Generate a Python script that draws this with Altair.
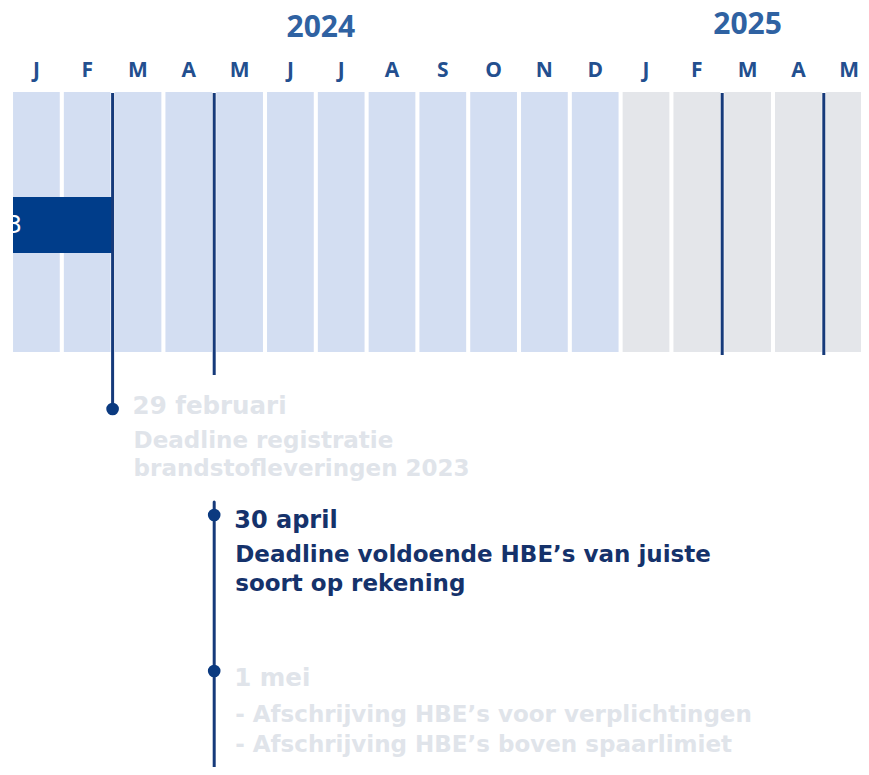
import altair as alt
import pandas as pd

# ---------------- data ----------------
month_letters = ["J", "F", "M", "A", "M", "J", "J", "A", "S", "O", "N", "D",
                 "J", "F", "M", "A", "M"]
month_years = [2024] * 12 + [2025] * 5
year_labels = ["2024", "2025"]
year_label_month = [6.1, 14.5]          # month index under which each year label sits
deadline_months = [2, 4, 14, 16]        # month boundaries: end of Feb, end of Apr
bar_label = "2023"
bar_start, bar_end = 0, 2
event_titles = ["29 februari", "30 april", "1 mei"]
event_lines = [
    ["Deadline registratie", "brandstofleveringen 2023"],
    ["Deadline voldoende HBE’s van juiste", "soort op rekening"],
    ["- Afschrijving HBE’s voor verplichtingen", "- Afschrijving HBE’s boven spaarlimiet"],
]
event_month = [2, 4, 4]
event_active = [False, True, False]

# ---------------- layout (page pixels, y downward) ----------------
COL_TOP, COL_BOT = 92, 352
BAR_TOP, BAR_BOT = 197, 253
MONTH_Y = 71
YEAR_Y = [28, 25]
RULE_END = [408, 375, 355, 355]
DOT_Y = [409, 515, 671]
TITLE_BASE = [414, 528, 686]
LINE_BASE = [[448, 476], [562, 591], [722, 752]]
TL2_TOP, TL2_BOT = 502, 767

NAVY = "#163a7a"
BAR = "#003d8a"
LIGHT = "#e0e4ea"
DARKTXT = "#15326b"

xs = alt.Scale(domain=[2 / 50.8, 850 / 50.8], nice=False, zero=False)
ys = alt.Scale(domain=[8, 767], reverse=True, nice=False, zero=False)


def X(f):
    return alt.X(f, type="quantitative", scale=xs, axis=None)


def Y(f):
    return alt.Y(f, type="quantitative", scale=ys, axis=None)


cols = pd.DataFrame({
    "m0": [i + 0.04 for i in range(len(month_letters))],
    "m1": [i + 0.96 for i in range(len(month_letters))],
    "mc": [i + 0.5 for i in range(len(month_letters))],
    "letter": month_letters,
    "year": [str(y) for y in month_years],
    "top": COL_TOP, "bot": COL_BOT, "ly": MONTH_Y,
})

columns = alt.Chart(cols).mark_rect(clip=True).encode(
    x=X("m0"), x2="m1", y=Y("top"), y2="bot",
    color=alt.Color("year:N", scale=alt.Scale(domain=["2024", "2025"],
                                              range=["#d3def2", "#e4e6ea"]), legend=None),
)

letters = alt.Chart(cols).mark_text(
    font="Open Sans", fontWeight="bold", fontSize=21, baseline="middle", color="#234f8f"
).encode(x=X("mc"), y=Y("ly"), text="letter:N")

yrs = pd.DataFrame({"label": year_labels, "m": year_label_month, "y": YEAR_Y})
years = alt.Chart(yrs).mark_text(
    font="Open Sans", fontWeight="bold", fontSize=30, baseline="middle", color="#2f62a2"
).encode(x=X("m"), y=Y("y"), text="label:N")

bar_df = pd.DataFrame({"s": [bar_start], "e": [bar_end], "t": [BAR_TOP], "b": [BAR_BOT],
                       "label": [bar_label], "ym": [(BAR_TOP + BAR_BOT) / 2 + 1]})
bar = alt.Chart(bar_df).mark_rect(color=BAR, clip=True).encode(
    x=X("s"), x2="e", y=Y("t"), y2="b")
bar_text = alt.Chart(bar_df).mark_text(
    font="DejaVu Sans", fontSize=24, color="white",
    align="right", baseline="middle", dx=11, clip=True
).encode(x=X("s"), y=Y("ym"), text="label:N")

rules_df = pd.DataFrame({"m": deadline_months, "top": COL_TOP + 1, "end": RULE_END})
rules = alt.Chart(rules_df).mark_rule(color=NAVY, strokeWidth=3).encode(
    x=X("m"), y=Y("top"), y2="end")

tl2_df = pd.DataFrame({"m": [event_month[1]], "top": [TL2_TOP], "bot": [TL2_BOT]})
tl2 = alt.Chart(tl2_df).mark_rule(color=NAVY, strokeWidth=3, strokeCap="round").encode(
    x=X("m"), y=Y("top"), y2="bot")

dots_df = pd.DataFrame({"m": event_month, "y": DOT_Y})
dots = alt.Chart(dots_df).mark_circle(size=160, opacity=1, color="#0b3a80").encode(
    x=X("m"), y=Y("y"))

titles_df = pd.DataFrame({"m": event_month, "y": TITLE_BASE, "text": event_titles,
                          "active": event_active})
rows = []
for i, lines in enumerate(event_lines):
    for j, t in enumerate(lines):
        rows.append({"m": event_month[i], "y": LINE_BASE[i][j], "text": t,
                     "active": event_active[i]})
body_df = pd.DataFrame(rows)


def text_layer(df, active, size, dx):
    return alt.Chart(df[df["active"] == active]).mark_text(
        font="DejaVu Sans", fontWeight="bold", fontSize=size, align="left",
        baseline="alphabetic", dx=dx, color=DARKTXT if active else LIGHT
    ).encode(x=X("m"), y=Y("y"), text="text:N")


titles_on = text_layer(titles_df, True, 24, 20)
titles_off = text_layer(titles_df, False, 24.5, 20)
body_on = text_layer(body_df, True, 23, 21)
body_off = text_layer(body_df, False, 23, 21)

chart = alt.layer(
    columns, bar, bar_text, rules, tl2, dots, letters, years,
    titles_off, body_off, titles_on, body_on
).properties(
    width=848, height=759,
    autosize=alt.AutoSizeParams(type="none"),
    padding={"left": 5, "top": 0, "right": 0, "bottom": 0},
).configure_view(stroke=None)

chart.save("out.html", embed_options={"renderer": "svg", "actions": False})
